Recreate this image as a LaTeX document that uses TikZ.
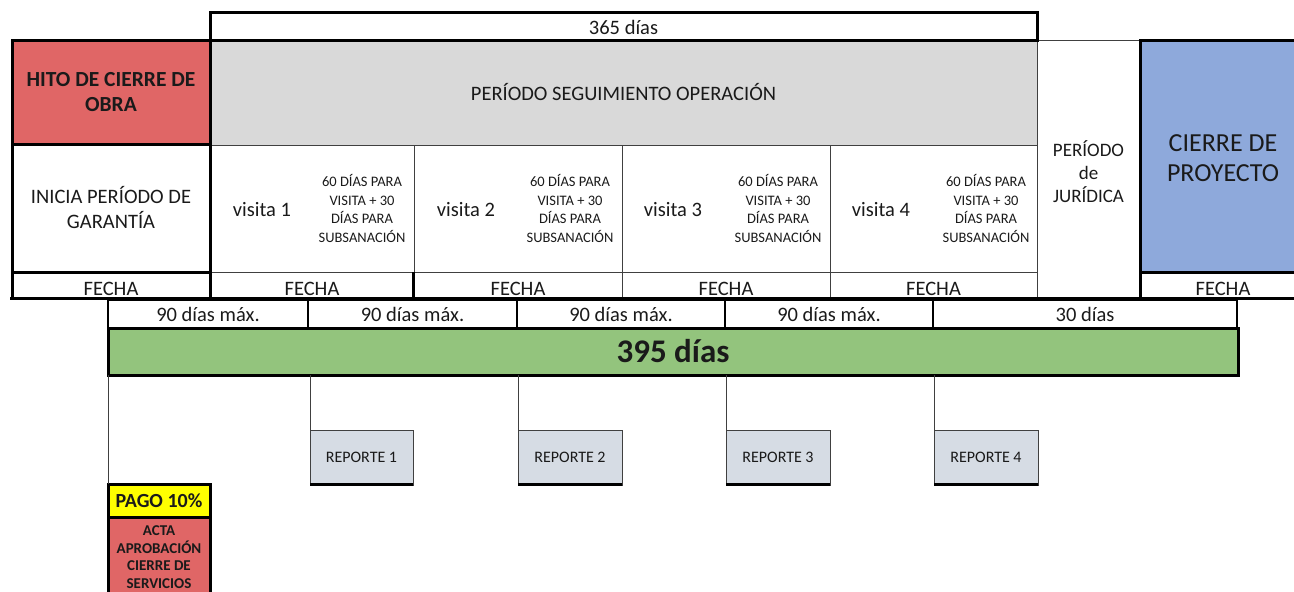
\documentclass[tikz,border=0pt]{standalone}
\usepackage{fontspec}
\setmainfont{Carlito}
\definecolor{ink}{HTML}{1A1A1A}
\definecolor{thinc}{HTML}{404040}
\definecolor{redf}{HTML}{E06666}
\definecolor{grayf}{HTML}{D9D9D9}
\definecolor{bluef}{HTML}{8EA9DB}
\definecolor{greenf}{HTML}{93C47D}
\definecolor{repf}{HTML}{D6DCE4}
\definecolor{yellowf}{HTML}{FFFF00}
\newcommand{\lowtxt}[1]{\raisebox{-4pt}[\height][\depth]{#1}}
\begin{document}
\begin{tikzpicture}[x=1pt,y=-1pt,
  every node/.style={inner sep=0pt,outer sep=0pt,align=center,text=ink},
  cell/.style={draw=thinc,line width=1pt},
  heavy/.style={draw=black,line width=3pt},
  midline/.style={draw=black,line width=2.5pt},
  conn/.style={draw=thinc,line width=1pt},
  fbig/.style={font=\fontsize{20.5}{25}\selectfont},
  fsmall/.style={font=\fontsize{14.5}{18.5}\selectfont},
  fjur/.style={font=\fontsize{19}{23}\selectfont},
  fcierre/.style={font=\fontsize{26}{30}\selectfont},
  frep/.style={font=\fontsize{16}{19}\selectfont},
  fbold/.style={font=\bfseries\fontsize{21.5}{25}\selectfont},
  fpago/.style={font=\bfseries\fontsize{20}{23}\selectfont},
  facta/.style={font=\bfseries\fontsize{15}{17.7}\selectfont},
  ftotal/.style={font=\bfseries\fontsize{33}{36}\selectfont}
]
\useasboundingbox (0,0) rectangle (1294,592);
\clip (0,0) rectangle (1294,592);

% gray period
\node[cell,fill=grayf,minimum width=827pt,minimum height=105pt,fbig] (gray) at (623.5,92.5) {PERÍODO SEGUIMIENTO OPERACIÓN};

% visit cells
\node[cell,minimum width=204pt,minimum height=127pt] (v1) at (312,208.5) {};
\node[cell,minimum width=208pt,minimum height=127pt] (v2) at (518,208.5) {};
\node[cell,minimum width=208pt,minimum height=127pt] (v3) at (726,208.5) {};
\node[cell,minimum width=207pt,minimum height=127pt] (v4) at (933.5,208.5) {};

\node[fbig] (t1) at ([xshift=52pt,yshift=-1pt]v1.west) {visita 1};
\node[fbig] (t2) at ([xshift=52pt,yshift=-1pt]v2.west) {visita 2};
\node[fbig] (t3) at ([xshift=51pt,yshift=-1pt]v3.west) {visita 3};
\node[fbig] (t4) at ([xshift=51pt,yshift=-1pt]v4.west) {visita 4};
\node[fsmall] (s1) at ([xshift=152pt]v1.west) {60 DÍAS PARA\\VISITA + 30\\DÍAS PARA\\SUBSANACIÓN};
\node[fsmall] (s2) at ([xshift=156pt]v2.west) {60 DÍAS PARA\\VISITA + 30\\DÍAS PARA\\SUBSANACIÓN};
\node[fsmall] (s3) at ([xshift=156pt]v3.west) {60 DÍAS PARA\\VISITA + 30\\DÍAS PARA\\SUBSANACIÓN};
\node[fsmall] (s4) at ([xshift=156pt]v4.west) {60 DÍAS PARA\\VISITA + 30\\DÍAS PARA\\SUBSANACIÓN};

% fecha row
\node[cell,minimum width=204pt,minimum height=26pt,fbig] (f1) at (312,285) {\lowtxt{FECHA}};
\node[cell,minimum width=208pt,minimum height=26pt,fbig] (f2) at (518,285) {\lowtxt{FECHA}};
\node[cell,minimum width=208pt,minimum height=26pt,fbig] (f3) at (726,285) {\lowtxt{FECHA}};
\node[cell,minimum width=207pt,minimum height=26pt,fbig] (f4) at (933.5,285) {\lowtxt{FECHA}};

% juridica
\node[cell,minimum width=103pt,minimum height=258pt] (jur) at (1088.5,169) {};
\node[fjur] (jurt) at (1088.5,172) {PERÍODO\\de\\JURÍDICA};

% left column
\node[heavy,fill=redf,minimum width=198pt,minimum height=104pt,fbold] (hito) at (111,92) {HITO DE CIERRE DE\\OBRA};
\node[heavy,minimum width=198pt,minimum height=128pt,fbig] (inicia) at (111,208) {INICIA PERÍODO DE\\GARANTÍA};
\node[heavy,minimum width=198pt,minimum height=26pt,fbig] (f0) at (111,285) {\lowtxt{FECHA}};

% top box
\node[heavy,minimum width=827pt,minimum height=28pt,fbig] (top) at (623.5,26) {\raisebox{-1pt}[\height][\depth]{365 días}};

% cierre
\node[heavy,fill=bluef,minimum width=166pt,minimum height=232pt,fcierre] (cierre) at (1223,156) {\raisebox{-2pt}[\height][\depth]{CIERRE DE}\\\raisebox{-2pt}[\height][\depth]{PROYECTO}};
\node[heavy,minimum width=166pt,minimum height=26pt,fbig] (f5) at (1223,285) {\lowtxt{FECHA}};

\draw[heavy] ([xshift=-1pt]f1.north east) -- ([xshift=-1pt]f1.south east);
\draw[heavy] ([xshift=-2pt]f0.south west) -- (f5.south east);

% days row
\node[midline,minimum width=200pt,minimum height=28pt,fbig] (d1) at (208,314) {90 días máx.};
\node[midline,minimum width=209pt,minimum height=28pt,fbig] (d2) at (412.5,314) {90 días máx.};
\node[midline,minimum width=208pt,minimum height=28pt,fbig] (d3) at (621,314) {90 días máx.};
\node[midline,minimum width=208pt,minimum height=28pt,fbig] (d4) at (829,314) {90 días máx.};
\node[midline,minimum width=304pt,minimum height=28pt,fbig] (d5) at (1085,314) {30 días};

% green total
\node[heavy,fill=greenf,minimum width=1130pt,minimum height=47pt,ftotal] (total) at (673,351.5) {395 días};

% reports
\node[cell,fill=repf,minimum width=103pt,minimum height=55pt,frep] (r1) at (361.5,457.5) {REPORTE 1};
\node[cell,fill=repf,minimum width=104pt,minimum height=55pt,frep] (r2) at (570,457.5) {REPORTE 2};
\node[cell,fill=repf,minimum width=104pt,minimum height=55pt,frep] (r3) at (778,457.5) {REPORTE 3};
\node[cell,fill=repf,minimum width=104pt,minimum height=55pt,frep] (r4) at (986,457.5) {REPORTE 4};
\foreach \r in {r1,r2,r3,r4}{
  \draw[line width=3pt] ([yshift=1pt]\r.south west) -- ([yshift=1pt]\r.south east);
}

% pago / acta
\node[heavy,fill=yellowf,minimum width=102pt,minimum height=33pt,fpago] (pago) at (159,500.5) {PAGO 10\%};
\node[heavy,fill=redf,minimum width=102pt,minimum height=80pt,facta] (acta) at (159,557) {ACTA\\APROBACIÓN\\CIERRE DE\\SERVICIOS};

% connectors
\draw[conn] (total.south -| r1.north west) -- (r1.north west);
\draw[conn] (total.south -| r2.north west) -- (r2.north west);
\draw[conn] (total.south -| r3.north west) -- (r3.north west);
\draw[conn] (total.south -| r4.north west) -- (r4.north west);
\draw[conn] (total.south west) -- (pago.north west);
\end{tikzpicture}
\end{document}
